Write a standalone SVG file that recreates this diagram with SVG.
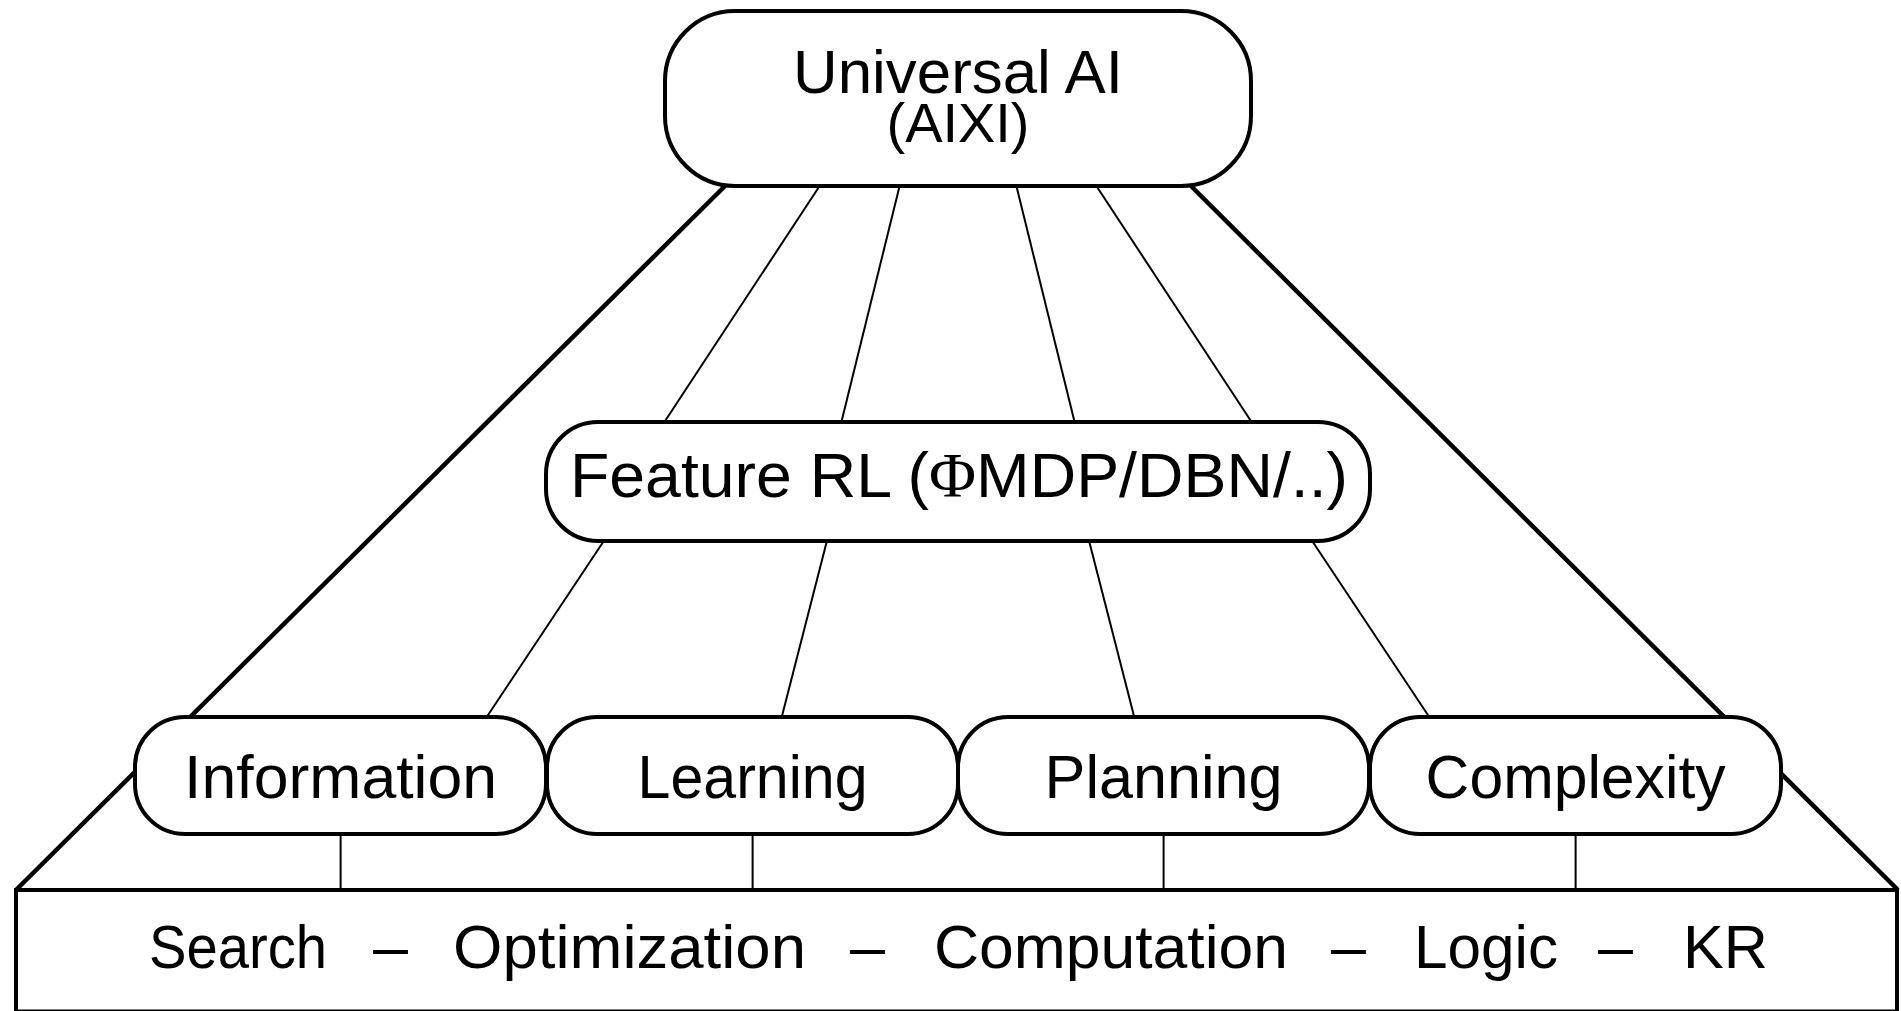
<svg xmlns="http://www.w3.org/2000/svg" width="1901" height="1011" viewBox="0 0 1901 1011">
<style>
.node{fill:#fff;stroke:#000;stroke-width:4}
.thick{stroke:#000;stroke-width:4.5;fill:none}
.thin{stroke:#000;stroke-width:2;fill:none}
text{font-family:"Liberation Sans",Arial,sans-serif;fill:#000}
.lbl{font-size:62px;text-anchor:middle}
.bot{font-size:62px}
</style>
<rect width="1901" height="1011" fill="#fff"/>
<g id="connectors">
<line class="thick" x1="725" y1="186" x2="16" y2="890"/>
<line class="thick" x1="1191" y1="186" x2="1898" y2="890"/>
<line class="thin" x1="819.6" y1="186" x2="664.4" y2="422"/>
<line class="thin" x1="899.6" y1="186" x2="841.4" y2="422"/>
<line class="thin" x1="1016.4" y1="186" x2="1074.6" y2="422"/>
<line class="thin" x1="1096.4" y1="186" x2="1251.6" y2="422"/>
<line class="thin" x1="603.8" y1="541" x2="487.4" y2="716"/>
<line class="thin" x1="826.9" y1="541" x2="782" y2="716"/>
<line class="thin" x1="1089.1" y1="541" x2="1134" y2="716"/>
<line class="thin" x1="1312.2" y1="541" x2="1428.6" y2="716"/>
<line class="thin" x1="340.6" y1="834" x2="340.6" y2="890"/>
<line class="thin" x1="752.6" y1="834" x2="752.6" y2="890"/>
<line class="thin" x1="1163.6" y1="834" x2="1163.6" y2="890"/>
<line class="thin" x1="1575.6" y1="834" x2="1575.6" y2="890"/>
</g>
<g id="universal-ai">
<rect class="node" x="665" y="11" width="586" height="175" rx="70" ry="70"/>
<text class="lbl" x="958" y="93" style="font-size:61px" textLength="330" lengthAdjust="spacingAndGlyphs">Universal AI</text>
<text class="lbl" x="958" y="142" style="font-size:55px" textLength="143" lengthAdjust="spacingAndGlyphs">(AIXI)</text>
</g>
<g id="feature-rl">
<rect class="node" x="546" y="422" width="824" height="119" rx="52" ry="52"/>
<text class="lbl" x="959" y="497" style="font-size:63px" textLength="778" lengthAdjust="spacingAndGlyphs">Feature RL (<tspan style="font-family:'Liberation Serif',serif">Φ</tspan>MDP/DBN/..)</text>
</g>
<g id="information">
<rect class="node" x="135" y="717" width="411" height="117" rx="50" ry="50"/>
<text class="lbl" x="340.6" y="798" textLength="313" lengthAdjust="spacingAndGlyphs">Information</text>
</g>
<g id="learning">
<rect class="node" x="547" y="717" width="411" height="117" rx="50" ry="50"/>
<text class="lbl" x="752.6" y="798" textLength="230" lengthAdjust="spacingAndGlyphs">Learning</text>
</g>
<g id="planning">
<rect class="node" x="958" y="717" width="411" height="117" rx="50" ry="50"/>
<text class="lbl" x="1163.6" y="798" textLength="238" lengthAdjust="spacingAndGlyphs">Planning</text>
</g>
<g id="complexity">
<rect class="node" x="1370" y="717" width="411" height="117" rx="50" ry="50"/>
<text class="lbl" x="1575.6" y="798" textLength="300" lengthAdjust="spacingAndGlyphs">Complexity</text>
</g>
<g id="foundations">
<rect class="node" x="16" y="890" width="1881" height="121.5"/>
<text class="bot" x="149" y="968" textLength="178" lengthAdjust="spacingAndGlyphs">Search</text>
<text class="bot" x="373" y="968" textLength="35" lengthAdjust="spacingAndGlyphs">–</text>
<text class="bot" x="453" y="968" textLength="353" lengthAdjust="spacingAndGlyphs">Optimization</text>
<text class="bot" x="850" y="968" textLength="35" lengthAdjust="spacingAndGlyphs">–</text>
<text class="bot" x="934" y="968" textLength="354" lengthAdjust="spacingAndGlyphs">Computation</text>
<text class="bot" x="1331" y="968" textLength="35" lengthAdjust="spacingAndGlyphs">–</text>
<text class="bot" x="1414" y="968" textLength="144" lengthAdjust="spacingAndGlyphs">Logic</text>
<text class="bot" x="1598" y="968" textLength="35" lengthAdjust="spacingAndGlyphs">–</text>
<text class="bot" x="1683" y="968" textLength="85" lengthAdjust="spacingAndGlyphs">KR</text>
</g>
</svg>
